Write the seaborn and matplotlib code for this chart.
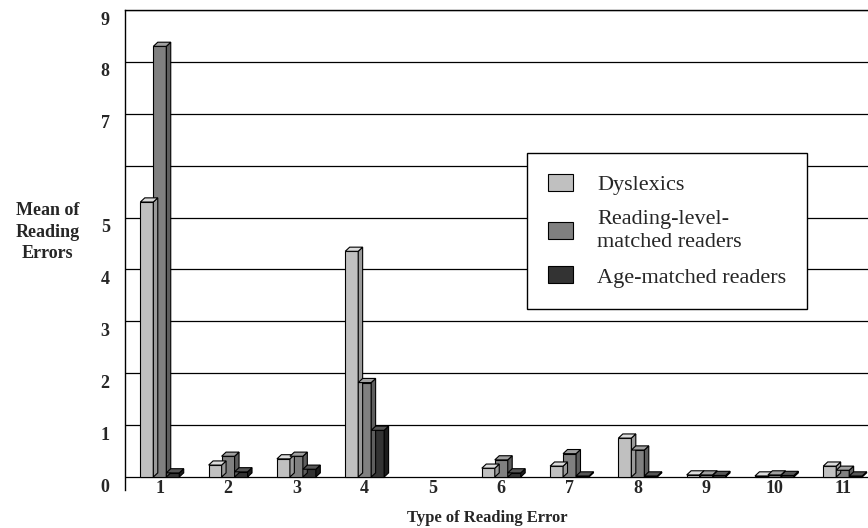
import numpy as np
import pandas as pd
import matplotlib
matplotlib.use("Agg")
import matplotlib.pyplot as plt
import matplotlib.transforms as mtransforms
from matplotlib.patches import Polygon, Patch
import seaborn as sns

error_types = ["1", "2", "3", "4", "5", "6", "7", "8", "9", "10", "11"]
dyslexics = [5.3, 0.23, 0.35, 4.35, 0.0, 0.17, 0.21, 0.75, 0.04, 0.02, 0.21]
reading_level = [8.3, 0.40, 0.40, 1.82, 0.0, 0.33, 0.45, 0.52, 0.04, 0.04, 0.13]
age_matched = [0.08, 0.10, 0.15, 0.90, 0.0, 0.08, 0.02, 0.02, 0.03, 0.03, 0.02]
groups = ["Dyslexics", "Reading-level-\nmatched readers", "Age-matched readers"]
y_ticks = [0, 1, 2, 3, 4, 5, 6, 7, 8, 9]
y_tick_labels = ["0", "1", "2", "3", "4", "5", "", "7", "8", "9"]

front = ["#c0c0c0", "#808080", "#333333"]
top_col = ["#dcdcdc", "#a0a0a0", "#555555"]
side_col = ["#9a9a9a", "#5e5e5e", "#1c1c1c"]

df = pd.DataFrame({
    "Type": error_types * 3,
    "Group": [groups[0]] * 11 + [groups[1]] * 11 + [groups[2]] * 11,
    "Mean": dyslexics + reading_level + age_matched,
})

sns.set_style("white")
plt.rcParams["font.family"] = ["Liberation Serif", "DejaVu Serif"]

fig = plt.figure(figsize=(8.68, 5.28), dpi=100)
ax = fig.add_axes([0.144, 0.072, 0.856, 0.909])

sns.barplot(data=df, x="Type", y="Mean", hue="Group", order=error_types,
            hue_order=groups, palette=front, width=0.57, edgecolor="black",
            linewidth=0.8, legend=False, ax=ax, zorder=3)

# fake 3D look: top and side faces built from each bar
dx, dy = 0.065, 0.08
bars = list(ax.patches)
for i, p in enumerate(bars):
    g = i // len(error_types)
    x, y, w, h = p.get_x(), p.get_y(), p.get_width(), p.get_height()
    if h <= 0:
        p.set_visible(False)
        continue
    topf = Polygon([(x, y + h), (x + dx, y + h + dy), (x + w + dx, y + h + dy), (x + w, y + h)],
                   closed=True, facecolor=top_col[g], edgecolor="black", lw=0.8, zorder=3)
    sidef = Polygon([(x + w, y), (x + w + dx, y + dy), (x + w + dx, y + h + dy), (x + w, y + h)],
                    closed=True, facecolor=side_col[g], edgecolor="black", lw=0.8, zorder=3)
    ax.add_patch(sidef)
    ax.add_patch(topf)

ax.set_xlim(-0.51, 10.37)
ax.set_ylim(-0.25, 9)
ax.set_yticks(y_ticks)
ax.set_yticklabels(y_tick_labels)
ax.yaxis.grid(True, color="black", linewidth=0.9)
ax.xaxis.grid(False)
ax.set_axisbelow(True)

for s in ["right", "bottom"]:
    ax.spines[s].set_visible(False)
for s in ["left", "top"]:
    ax.spines[s].set_color("black")
    ax.spines[s].set_linewidth(1.0)

ax.tick_params(axis="both", length=0, labelsize=13)
ax.tick_params(axis="x", pad=-7)
ax.tick_params(axis="y", pad=11)
for lab in ax.get_xticklabels() + ax.get_yticklabels():
    lab.set_fontweight("bold")
shift = mtransforms.ScaledTranslation(0, -8 / 100, fig.dpi_scale_trans)
for lab in ax.get_yticklabels():
    lab.set_transform(lab.get_transform() + shift)

ax.set_xlabel("Type of Reading Error", fontsize=12, fontweight="bold")
ax.xaxis.set_label_coords(0.487, -0.042)
ax.set_ylabel("Mean of\nReading\nErrors", fontsize=13, fontweight="bold",
              rotation=0, ha="center", va="center", linespacing=1.35)
ax.yaxis.set_label_coords(-0.104, 0.5375)

handles = [Patch(facecolor=c, edgecolor="black", linewidth=0.8) for c in front]
leg = ax.legend(handles, groups, loc="upper left", bbox_to_anchor=(0.541, 0.702),
                fontsize=16, frameon=True, fancybox=False, framealpha=1,
                borderpad=0.95, handlelength=1.1, handleheight=0.8,
                handletextpad=1.1, labelspacing=0.65, borderaxespad=0)
for t in leg.get_texts():
    t.set_linespacing(1.3)
leg.get_frame().set_edgecolor("black")
leg.get_frame().set_linewidth(1.0)
leg.set_zorder(5)

fig.savefig("out.png", dpi=100)
